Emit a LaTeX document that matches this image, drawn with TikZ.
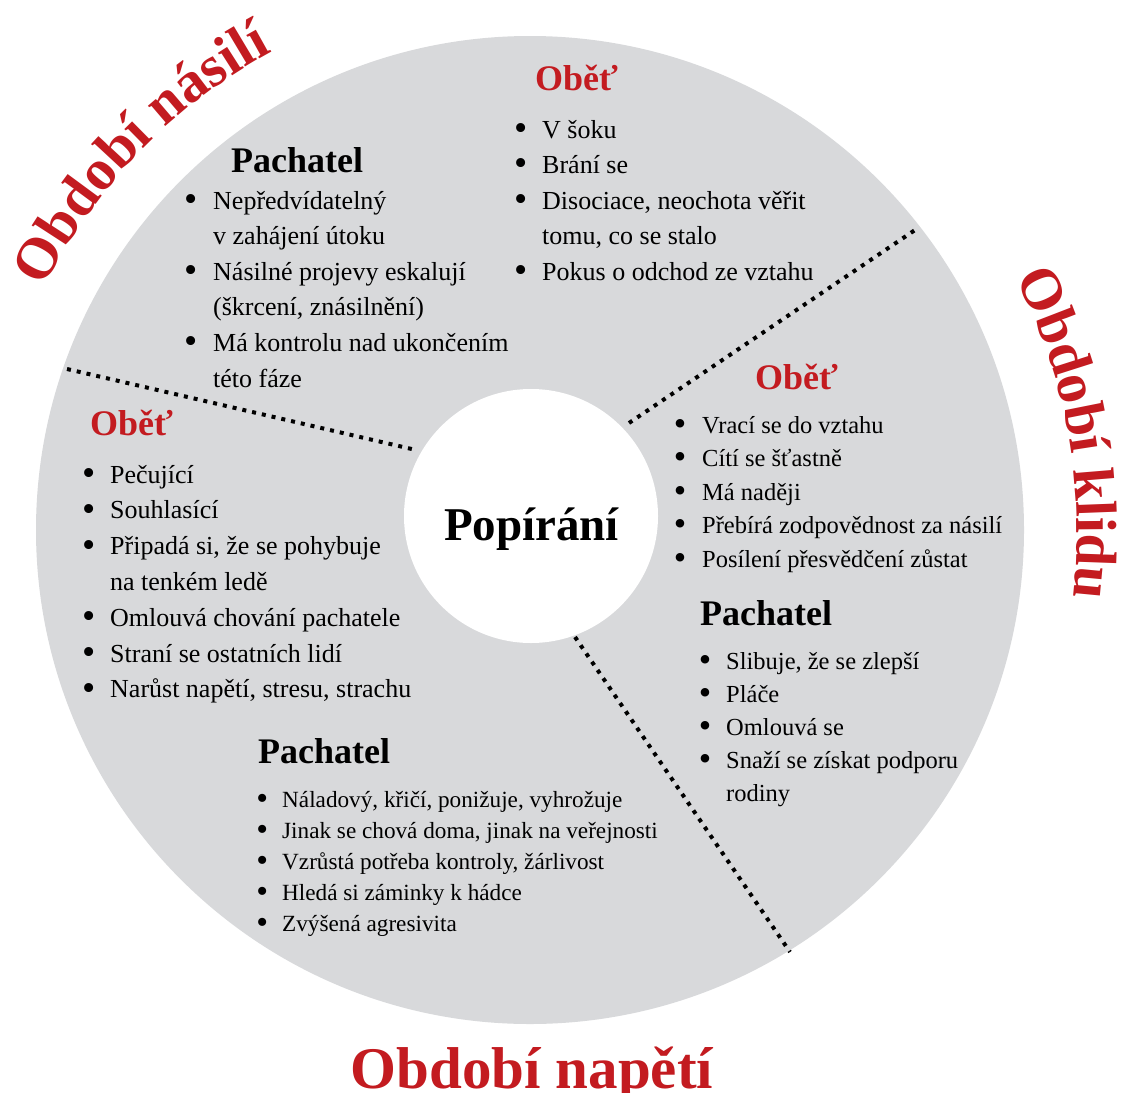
\documentclass[tikz,border=0pt]{standalone}
\usepackage{fontspec}
\setmainfont{Liberation Serif}
\usetikzlibrary{decorations.text}
\definecolor{ringgrey}{RGB}{216,217,219}
\definecolor{titlered}{RGB}{195,27,32}
\newlength{\bg}
\newcommand{\bi}{\makebox[0pt][c]{\raisebox{-0.09em}{\scalebox{1.45}{\textbullet}}}\hspace*{\bg}}
\newcommand{\ci}{\hspace*{\bg}}
\tikzset{
  header/.style={anchor=base west, inner sep=0pt, font=\fontsize{36}{36}\bfseries},
  redhead/.style={header, text=titlered},
  blackhead/.style={header, text=black},
  listbox/.style={anchor=base west, inner sep=0pt},
  divider/.style={line width=4pt, line cap=butt, dash pattern=on 4pt off 6pt},
  title/.style={inner sep=0pt, font=\fontsize{59}{59}\bfseries, text=titlered},
  arctitle/.style={decorate, decoration={text along path, text align=center,
      text color=titlered, text={|\fontsize{58}{58}\bfseries|#1}}},
}
\begin{document}
\begin{tikzpicture}[x=1pt,y=1pt]
\fill[white] (0,0) rectangle (1132,-1092);
\useasboundingbox (0,0) rectangle (1132,-1092);

% outer ring
\coordinate (C) at (530,-530);
\fill[ringgrey] (C) circle (494);

% dividers
\coordinate (d1a) at (67,-369);
\coordinate (d1b) at (416,-450);
\coordinate (d2a) at (629,-423);
\coordinate (d2b) at (918,-228);
\coordinate (d3a) at (575,-637);
\coordinate (d3b) at (790,-952);
\draw[divider] (d1a) -- (d1b);
\draw[divider] (d2a) -- (d2b);
\draw[divider] (d3a) -- (d3b);

% inner circle
\fill[white] (531,-516) circle (127);
\node[anchor=base, inner sep=0pt, font=\fontsize{47}{47}\bfseries] (center) at (531.5,-540) {Popírání};

% headers
\node[blackhead] (tlhead) at (231,-172) {Pachatel};
\node[redhead]   (thead)  at (535,-90)  {Oběť};
\node[redhead]   (lhead)  at (90,-435)  {Oběť};
\node[redhead]   (rhead)  at (755,-389) {Oběť};
\node[blackhead] (rphead) at (700,-625) {Pachatel};
\node[blackhead] (bphead) at (258,-763) {Pachatel};

% lists (node x = bullet centre)
\node[listbox] (tllist) at (191,-209) {\parbox[t]{420pt}{\fontsize{26}{35.6}\selectfont\setlength{\bg}{22pt}%
\bi Nepředvídatelný\\
\ci v zahájení útoku\\
\bi Násilné projevy eskalují\\
\ci (škrcení, znásilnění)\\
\bi Má kontrolu nad ukončením\\
\ci této fáze}};

\node[listbox] (tlist) at (521,-138) {\parbox[t]{420pt}{\fontsize{26}{35.5}\selectfont\setlength{\bg}{21pt}%
\bi V šoku\\
\bi Brání se\\
\bi Disociace, neochota věřit\\
\ci tomu, co se stalo\\
\bi Pokus o odchod ze vztahu}};

\node[listbox] (llist) at (89,-483) {\parbox[t]{420pt}{\fontsize{26}{35.83}\selectfont\setlength{\bg}{21pt}%
\bi Pečující\\
\bi Souhlasící\\
\bi Připadá si, že se pohybuje\\
\ci na tenkém ledě\\
\bi Omlouvá chování pachatele\\
\bi Straní se ostatních lidí\\
\bi Narůst napětí, stresu, strachu}};

\node[listbox] (rlist) at (680,-433) {\parbox[t]{420pt}{\fontsize{24.5}{33.5}\selectfont\setlength{\bg}{22pt}%
\bi Vrací se do vztahu\\
\bi Cítí se šťastně\\
\bi Má naději\\
\bi Přebírá zodpovědnost za násilí\\
\bi Posílení přesvědčení zůstat}};

\node[listbox] (rplist) at (705,-669) {\parbox[t]{420pt}{\fontsize{24.5}{33}\selectfont\setlength{\bg}{21pt}%
\bi Slibuje, že se zlepší\\
\bi Pláče\\
\bi Omlouvá se\\
\bi Snaží se získat podporu\\
\ci rodiny}};

\node[listbox] (bplist) at (262,-807) {\parbox[t]{480pt}{\fontsize{23.2}{31.1}\selectfont\setlength{\bg}{20pt}%
\bi Náladový, křičí, ponižuje, vyhrožuje\\
\bi Jinak se chová doma, jinak na veřejnosti\\
\bi Vzrůstá potřeba kontroly, žárlivost\\
\bi Hledá si záminky k hádce\\
\bi Zvýšená agresivita}};

% phase titles
\begin{scope}[shift={(C)}]
  \path[arctitle={Období násilí}] (165.9:543) arc[start angle=165.9, end angle=105.9, radius=543];
  \path[arctitle={Období klidu}] (40.2:547) arc[start angle=40.2, end angle=-19.8, radius=547];
\end{scope}
\node[title, anchor=base] (tbottom) at (532,-1088) {Období napětí};
\end{tikzpicture}
\end{document}
